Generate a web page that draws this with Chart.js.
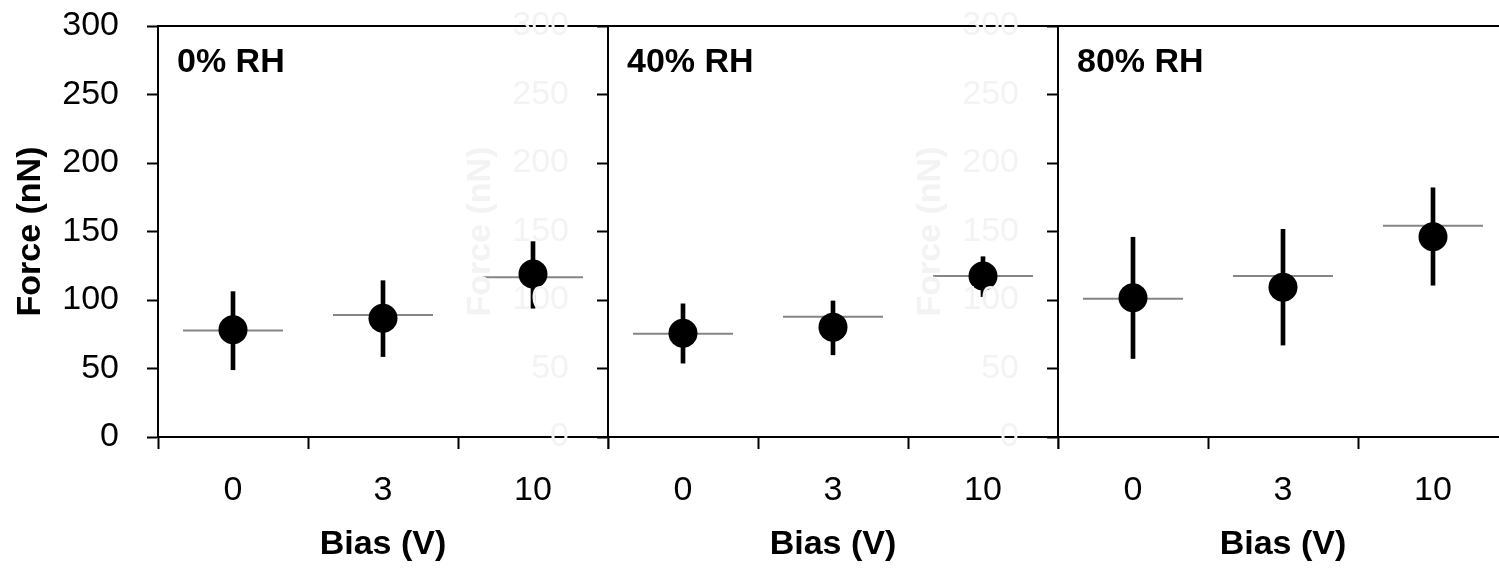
<!DOCTYPE html>
<html>
<head>
<meta charset="utf-8">
<script src="https://cdn.jsdelivr.net/npm/chart.js@4"></script>
<style>
  html, body { margin: 0; padding: 0; background: #fff; overflow: hidden; }
  body { width: 1499px; height: 568px; position: relative; }
  canvas.panel { position: absolute; top: 0; }
</style>
</head>
<body>
<canvas id="rh0" class="panel" width="608" height="568" style="left:0px"></canvas>
<canvas id="rh40" class="panel" width="608" height="568" style="left:450px"></canvas>
<canvas id="rh80" class="panel" width="608" height="568" style="left:900px"></canvas>
<script>
// Data

const biasLabels = ['0', '3', '10'];

// 0% RH
const force0 = [78.2, 86.7, 119.0];
const low0 = [49.1, 58.7, 94.0];
const high0 = [106.1, 114.1, 142.6];
const ref0 = [77.7, 89.1, 116.6];

// 40% RH
const force40 = [75.8, 80.2, 117.6];
const low40 = [53.9, 60.0, 102.5];
const high40 = [97.2, 99.3, 131.6];
const ref40 = [75.3, 87.7, 117.6];

// 80% RH
const force80 = [101.7, 109.3, 146.2];
const low80 = [57.3, 67.1, 110.8];
const high80 = [145.8, 151.6, 181.9];
const ref80 = [101.0, 117.6, 154.2];

const yMin = 0;
const yMax = 300;
const yStep = 50;

// Shared look

const FONT = '"Liberation Sans", Arial, sans-serif';
Chart.defaults.font.family = FONT;
Chart.defaults.font.size = 34;
Chart.defaults.color = '#000';

// humidity label in the top-left corner of each panel
const panelLabel = {
    id: 'panelLabel',
    afterDraw(chart, args, opts) {
        const { ctx, chartArea } = chart;
        ctx.save();
        ctx.font = 'bold 34px ' + FONT;
        ctx.fillStyle = '#000';
        ctx.textBaseline = 'alphabetic';
        ctx.fillText(opts.text, chartArea.left + 19, chartArea.top + 46);
        ctx.restore();
    }
};

// keep the plot box fixed: no extra room for overhanging tick labels
function noPadding(scale) {
    scale.paddingTop = 0;
    scale.paddingBottom = 0;
    scale.paddingLeft = 0;
    scale.paddingRight = 0;
}

function makePanel(canvasId, name, force, low, high, ref, axisColor) {
    return new Chart(document.getElementById(canvasId), {
        type: 'bar',
        data: {
            labels: biasLabels,
            datasets: [
                {
                    type: 'line',
                    label: 'Force',
                    data: force,
                    showLine: false,
                    pointRadius: 14.5,
                    pointHoverRadius: 14.5,
                    pointBackgroundColor: '#000',
                    pointBorderColor: '#000',
                    pointBorderWidth: 0,
                    order: 0
                },
                {
                    label: 'Range',
                    data: low.map((v, i) => [v, high[i]]),
                    backgroundColor: '#000',
                    borderWidth: 0,
                    barThickness: 4,
                    order: 1
                },
                {
                    type: 'line',
                    label: 'Reference',
                    data: ref,
                    showLine: false,
                    pointStyle: 'line',
                    pointRadius: 50,
                    pointHoverRadius: 50,
                    pointBorderColor: '#858585',
                    pointBorderWidth: 2,
                    order: 2
                }
            ]
        },
        options: {
            responsive: false,
            animation: false,
            events: [],
            layout: {
                autoPadding: false,
                padding: { top: 26, left: 0, right: 0, bottom: 0 }
            },
            plugins: {
                legend: { display: false },
                tooltip: { enabled: false },
                panelLabel: { text: name }
            },
            scales: {
                x: {
                    offset: true,
                    grid: {
                        offset: true,
                        drawOnChartArea: false,
                        color: '#000',
                        tickLength: 12,
                        tickWidth: 2
                    },
                    border: { color: '#000', width: 2 },
                    ticks: { color: '#000', padding: 21, font: { size: 34 } },
                    title: {
                        display: true,
                        text: 'Bias (V)',
                        color: '#000',
                        font: { size: 34, weight: 'bold' },
                        padding: { top: 0, bottom: 3 }
                    },
                    afterFit(scale) { scale.height = 131; noPadding(scale); }
                },
                xTop: {
                    type: 'category',
                    position: 'top',
                    ticks: { display: false },
                    grid: { display: false },
                    border: { color: '#000', width: 2 },
                    afterFit(scale) { scale.height = 0; noPadding(scale); }
                },
                y: {
                    min: yMin,
                    max: yMax,
                    ticks: { stepSize: yStep, color: axisColor, padding: 28, font: { size: 34 } },
                    grid: {
                        drawOnChartArea: false,
                        color: '#000',
                        tickLength: 11,
                        tickWidth: 2
                    },
                    border: { color: '#000', width: 2 },
                    title: {
                        display: true,
                        text: 'Force (nN)',
                        color: axisColor,
                        font: { size: 34, weight: 'bold' },
                        padding: { top: 10, bottom: 0 }
                    },
                    afterFit(scale) { scale.width = 158; noPadding(scale); }
                }
            }
        },
        plugins: [panelLabel]
    });
}

// Charts

const chart0 = makePanel('rh0', '0% RH', force0, low0, high0, ref0, '#000');
const chart40 = makePanel('rh40', '40% RH', force40, low40, high40, ref40, '#f3f3f3');
const chart80 = makePanel('rh80', '80% RH', force80, low80, high80, ref80, '#f3f3f3');
</script>
</body>
</html>
